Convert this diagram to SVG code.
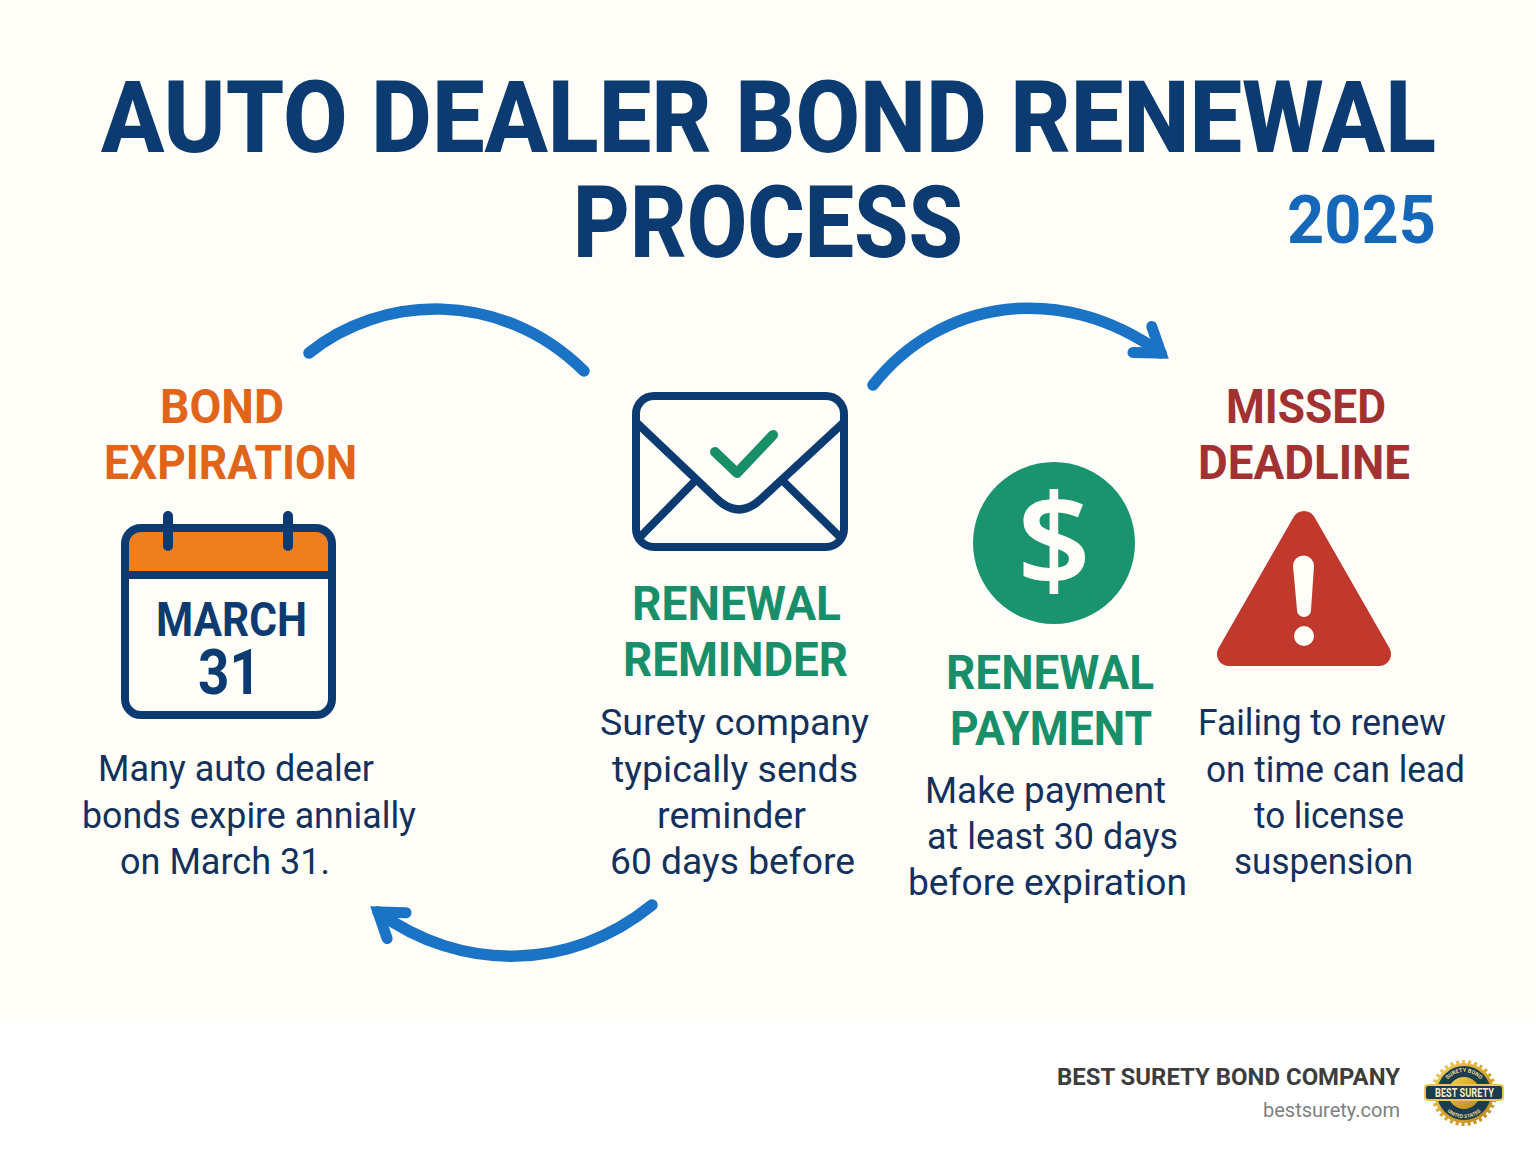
<svg xmlns="http://www.w3.org/2000/svg" width="1536" height="1154" viewBox="0 0 1536 1154">
<style>
text{font-family:Roboto,"Liberation Sans",sans-serif}
.title{font-size:100px;font-weight:800;fill:#0b3b70}
.head{font-size:48px;font-weight:700}
.body{font-size:36px;font-weight:400;fill:#12315c}
.orange{fill:#e0651b}.green{fill:#188f69}.red{fill:#a23232}
.navy{fill:none;stroke:#0b3b70;stroke-width:8;stroke-linejoin:round;stroke-linecap:round}
.ring{fill:none;stroke:#0b3b70;stroke-width:10;stroke-linecap:round}
.conn{fill:none;stroke:#1a73c4;stroke-width:11.5;stroke-linecap:round}
.seal{font-weight:700;fill:#f2dc9a}
</style>
<defs>
<marker id="head" markerUnits="userSpaceOnUse" viewBox="-40 -30 60 60" refX="0" refY="0" markerWidth="60" markerHeight="60" orient="auto">
<path d="M-23 -16 L0 0 L-23 16" fill="none" stroke="#1a73c4" stroke-width="11" stroke-linejoin="miter" stroke-linecap="round"/>
</marker>
<linearGradient id="gold" x1="0" y1="0" x2="1" y2="1"><stop offset="0" stop-color="#f2d268"/><stop offset=".5" stop-color="#d9a62e"/><stop offset="1" stop-color="#b98a22"/></linearGradient>
<path id="sealTop" d="M1446.8 1081 A21 21 0 0 1 1481.2 1081"/>
<path id="sealBottom" d="M1444.3 1108.4 A25 25 0 0 0 1483.7 1108.4"/>
</defs>
<rect width="1536" height="1154" fill="#ffffff"/>
<rect width="1536" height="1022" fill="#fffdf7"/>

<g id="title">
<text class="title" x="101" y="152" textLength="1335" lengthAdjust="spacingAndGlyphs">AUTO DEALER BOND RENEWAL</text>
<text class="title" x="573" y="257" textLength="390" lengthAdjust="spacingAndGlyphs">PROCESS</text>
<text x="1287" y="243" font-size="66" font-weight="700" fill="#1467b9" textLength="149" lengthAdjust="spacingAndGlyphs">2025</text>
</g>

<g id="connectors">
<path class="conn" d="M309 353 C380 295 500 288 584 371"/>
<path class="conn" d="M873 385 C940 300 1060 280 1161 353" marker-end="url(#head)"/>
<path class="conn" d="M652 905 C570 972 460 972 378 912" marker-end="url(#head)"/>
</g>

<g id="node-bond-expiration">
<text class="head orange" x="160" y="423" textLength="124" lengthAdjust="spacingAndGlyphs">BOND</text>
<text class="head orange" x="104" y="479" textLength="253" lengthAdjust="spacingAndGlyphs">EXPIRATION</text>
<rect x="125" y="528" width="207" height="187" rx="16" fill="#fffdf7"/>
<path d="M125 575 V544 a16 16 0 0 1 16 -16 H316 a16 16 0 0 1 16 16 V575 Z" fill="#ee7f1f"/>
<rect class="navy" x="125" y="528" width="207" height="187" rx="16"/>
<path class="navy" d="M125 575 H332"/>
<path class="ring" d="M168 516 V546 M288 516 V546"/>
<text x="156" y="636" font-size="48" font-weight="700" fill="#0b3b70" textLength="151" lengthAdjust="spacingAndGlyphs">MARCH</text>
<text x="198" y="694" font-size="63" font-weight="700" fill="#0b3b70" textLength="63" lengthAdjust="spacingAndGlyphs">31</text>
<text class="body" x="98" y="781" textLength="276" lengthAdjust="spacingAndGlyphs">Many auto dealer</text>
<text class="body" x="82" y="828" textLength="334" lengthAdjust="spacingAndGlyphs">bonds expire annially</text>
<text class="body" x="120" y="874" textLength="210" lengthAdjust="spacingAndGlyphs">on March 31.</text>
</g>

<g id="node-renewal-reminder">
<rect x="636" y="396" width="208" height="151" rx="18" fill="#fffdf7"/>
<path class="navy" d="M638 424 L717 499 Q739 520 761 499 L842 424"/>
<path class="navy" d="M693 483 L640 537 M785 483 L840 537"/>
<rect class="navy" x="636" y="396" width="208" height="151" rx="18"/>
<path d="M715 452 L737 473 L773 435" fill="none" stroke="#188f69" stroke-width="10" stroke-linecap="round" stroke-linejoin="round"/>
<text class="head green" x="632" y="620" textLength="209" lengthAdjust="spacingAndGlyphs">RENEWAL</text>
<text class="head green" x="623" y="676" textLength="225" lengthAdjust="spacingAndGlyphs">REMINDER</text>
<text class="body" x="600" y="735" textLength="269" lengthAdjust="spacingAndGlyphs">Surety company</text>
<text class="body" x="612" y="782" textLength="246" lengthAdjust="spacingAndGlyphs">typically sends</text>
<text class="body" x="657" y="828" textLength="149" lengthAdjust="spacingAndGlyphs">reminder</text>
<text class="body" x="610" y="874" textLength="245" lengthAdjust="spacingAndGlyphs">60 days before</text>
</g>

<g id="node-renewal-payment">
<circle cx="1054" cy="543" r="81" fill="#1a946e"/>
<text x="1054" y="586" font-size="129" font-weight="600" fill="#fffdf7" text-anchor="middle" style="font-family:'Noto Sans',sans-serif">$</text>
<text class="head green" x="946" y="689" textLength="208" lengthAdjust="spacingAndGlyphs">RENEWAL</text>
<text class="head green" x="950" y="745" textLength="202" lengthAdjust="spacingAndGlyphs">PAYMENT</text>
<text class="body" x="925" y="803" textLength="241" lengthAdjust="spacingAndGlyphs">Make payment</text>
<text class="body" x="927" y="849" textLength="251" lengthAdjust="spacingAndGlyphs">at least 30 days</text>
<text class="body" x="908" y="895" textLength="279" lengthAdjust="spacingAndGlyphs">before expiration</text>
</g>

<g id="node-missed-deadline">
<text class="head red" x="1226" y="423" textLength="160" lengthAdjust="spacingAndGlyphs">MISSED</text>
<text class="head red" x="1198" y="479" textLength="212" lengthAdjust="spacingAndGlyphs">DEADLINE</text>
<path d="M1304 523 L1229 654 H1379 Z" fill="#c1382c" stroke="#c1382c" stroke-width="24" stroke-linejoin="round"/>
<path d="M1293 566 a10.5 10.5 0 0 1 21 0 L1311 610 a7 7 0 0 1 -14 0 Z" fill="#fffdf7"/>
<circle cx="1304" cy="636" r="10" fill="#fffdf7"/>
<text class="body" x="1198" y="735" textLength="248" lengthAdjust="spacingAndGlyphs">Failing to renew</text>
<text class="body" x="1206" y="782" textLength="259" lengthAdjust="spacingAndGlyphs">on time can lead</text>
<text class="body" x="1254" y="828" textLength="150" lengthAdjust="spacingAndGlyphs">to license</text>
<text class="body" x="1234" y="874" textLength="179" lengthAdjust="spacingAndGlyphs">suspension</text>
</g>

<g id="footer">
<text x="1057" y="1085" font-size="23" font-weight="700" fill="#3d3d3d" textLength="343" lengthAdjust="spacingAndGlyphs">BEST SURETY BOND COMPANY</text>
<text x="1263" y="1117" font-size="20" fill="#808080" textLength="137" lengthAdjust="spacingAndGlyphs">bestsurety.com</text>
<circle cx="1464" cy="1093" r="30" fill="url(#gold)"/>
<circle cx="1464" cy="1093" r="31" fill="none" stroke="url(#gold)" stroke-width="4" stroke-dasharray="3 3"/>
<circle cx="1464" cy="1093" r="27" fill="#1c3d4d"/>
<circle cx="1464" cy="1093" r="16" fill="url(#gold)"/>
<text class="seal" font-size="5.5"><textPath href="#sealTop" startOffset="50%" text-anchor="middle">SURETY BOND</textPath></text>
<text class="seal" font-size="5"><textPath href="#sealBottom" startOffset="50%" text-anchor="middle">UNITED STATES</textPath></text>
<rect x="1425" y="1085" width="78" height="15" rx="3" fill="#1c3d4d" stroke="#eac858" stroke-width="2"/>
<text x="1435" y="1097" font-size="12" font-weight="700" fill="#fbeec4" textLength="59" lengthAdjust="spacingAndGlyphs">BEST SURETY</text>
</g>
</svg>
